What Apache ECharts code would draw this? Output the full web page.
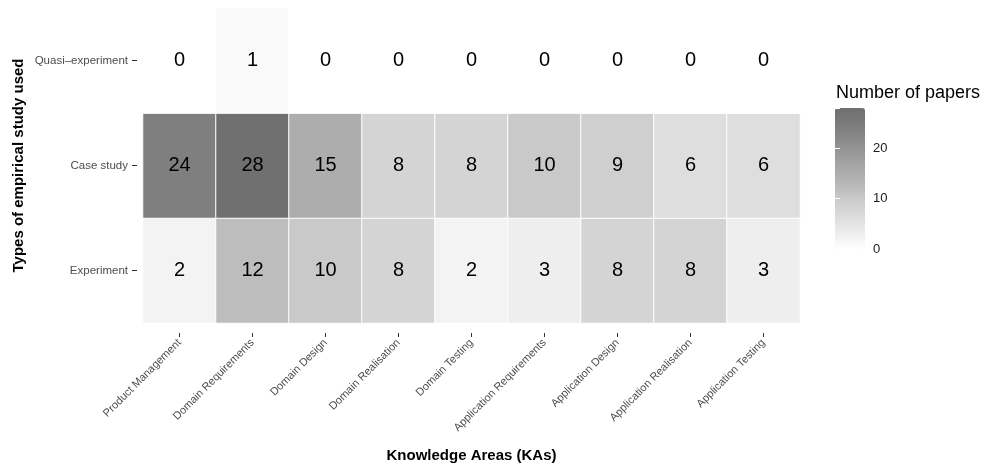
<!DOCTYPE html>
<html>
<head>
<meta charset="utf-8">
<script src="https://cdn.jsdelivr.net/npm/echarts@6/dist/echarts.min.js"></script>
<style>html,body{margin:0;padding:0;background:#fff}#c{width:985px;height:463px}</style>
</head>
<body>
<div id="c"></div>
<script>
const knowledgeAreas = ['Product Management','Domain Requirements','Domain Design','Domain Realisation','Domain Testing','Application Requirements','Application Design','Application Realisation','Application Testing'];
const studyTypes = ['Experiment','Case study','Quasi\u2013experiment'];
const experiment = [2,12,10,8,2,3,8,8,3];
const caseStudy = [24,28,15,8,8,10,9,6,6];
const quasiExperiment = [0,1,0,0,0,0,0,0,0];
const legendTicks = [0,10,20];
const rows = [experiment, caseStudy, quasiExperiment];
const data = [];
rows.forEach((r, yi) => r.forEach((v, xi) => data.push([xi, yi, v])));

const FONT = '"Liberation Sans", Arial, Helvetica, sans-serif';
const chart = echarts.init(document.getElementById('c'), null, {renderer:'canvas'});
chart.setOption({
  animation:false,
  backgroundColor:'#fff',
  textStyle:{fontFamily:FONT},
  title:{text:'Number of papers', left:836, top:84, padding:0,
    textStyle:{fontSize:18, fontWeight:'normal', color:'#000', fontFamily:FONT}},
  grid:[
    {left:143, top:8, width:657, height:315, containLabel:false, outerBoundsMode:'none'},
    {left:835, top:108, width:30, height:141, containLabel:false, outerBoundsMode:'none'}
  ],
  xAxis:[{
    type:'category', data:knowledgeAreas, gridIndex:0, offset:10,
    axisLine:{show:false},
    axisTick:{show:true, alignWithLabel:true, length:4, lineStyle:{color:'#333'}},
    axisLabel:{rotate:45, fontSize:11, color:'#4d4d4d', margin:8, fontFamily:FONT, interval:0},
    splitLine:{show:false},
    name:'Knowledge Areas (KAs)', nameLocation:'middle', nameGap:115,
    nameTextStyle:{fontSize:15, fontWeight:'bold', color:'#000', fontFamily:FONT}
  },{
    type:'value', gridIndex:1, show:false, min:0, max:1
  }],
  yAxis:[{
    type:'category', data:studyTypes, gridIndex:0, offset:6,
    axisLine:{show:false},
    axisTick:{show:true, alignWithLabel:true, length:5, lineStyle:{color:'#333'}},
    axisLabel:{fontSize:11.5, color:'#4d4d4d', margin:9, fontFamily:FONT},
    splitLine:{show:false},
    name:'Types of empirical study used', nameLocation:'middle', nameGap:111, nameMoveOverlap:false,
    nameTextStyle:{fontSize:15, fontWeight:'bold', color:'#000', fontFamily:FONT}
  },{
    type:'value', gridIndex:1, min:0, max:28, interval:10, position:'right',
    axisLine:{show:false},
    axisTick:{show:true, inside:true, length:5, lineStyle:{color:'#fff', width:1}},
    axisLabel:{fontSize:13, color:'#1a1a1a', margin:8, showMaxLabel:false, fontFamily:FONT,
      formatter: v => legendTicks.includes(v) ? String(v) : ''},
    splitLine:{show:false}, z:10
  },{
    type:'value', gridIndex:1, min:0, max:28, interval:10, position:'left',
    axisLine:{show:false},
    axisTick:{show:true, inside:true, length:5, lineStyle:{color:'#fff', width:1}},
    axisLabel:{show:false},
    splitLine:{show:false}, z:10
  }],
  visualMap:{
    type:'continuous', min:0, max:28, calculable:false, seriesIndex:0,
    orient:'vertical', left:830, top:103, itemWidth:30, itemHeight:141,
    text:null, showLabel:false, padding:5,
    inRange:{color:['#ffffff','#f3f3f3','#e9e9e9','#dedede','#d4d4d4','#c9c9c9','#bdbdbd','#b2b2b2','#a8a8a8','#9e9e9e','#949494','#898989','#7f7f7f','#777777','#707070']}
  },
  series:[{
    type:'heatmap', xAxisIndex:0, yAxisIndex:0, data:data,
    itemStyle:{borderColor:'#fff', borderWidth:1},
    label:{show:true, fontSize:20, color:'#000', fontFamily:FONT, formatter:p=>String(p.value[2])},
    emphasis:{disabled:true}
  }]
});
</script>
</body>
</html>
